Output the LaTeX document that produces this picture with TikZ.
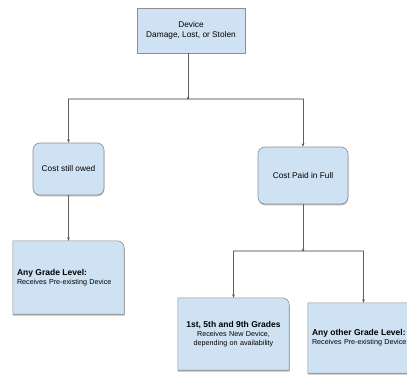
\documentclass[tikz,border=0pt]{standalone}
\usepackage{fontspec}
\setmainfont{Liberation Sans}
\usetikzlibrary{arrows.meta,shadows,backgrounds}

\definecolor{cardblue}{HTML}{CFE2F3}
\definecolor{cardedge}{HTML}{8E8E8E}
\definecolor{linkgray}{HTML}{5F5F5F}
\definecolor{bargray}{HTML}{B8B8B8}

\tikzset{
  softshadow/.style={drop shadow={shadow xshift=0.3pt, shadow yshift=-1.3pt,
      fill=black, opacity=0.28}},
  card/.style={fill=cardblue, draw=cardedge, line width=0.6pt, softshadow,
    align=center, inner sep=4pt, font=\fontsize{8.3}{10}\selectfont},
  roundcard/.style={card, rounded corners=7pt},
  slot/.style={minimum width=111pt, inner sep=4pt,
    font=\fontsize{7.2}{9}\selectfont},
  link/.style={->, draw=linkgray, line width=0.6pt},
  bar/.style={draw=bargray, line width=1.8pt},
}

% heading of a lower card
\newcommand\cardhead[1]{{\fontsize{8.5}{9}\selectfont\bfseries #1}}

% outline of a lower card: only the top right corner is rounded
\newcommand\cardshape[1]{%
  \path[fill=cardblue, draw=cardedge, line width=0.6pt, softshadow]
    (#1.south west) -- (#1.north west) -- ([xshift=-7pt]#1.north east)
    arc[start angle=90, end angle=0, radius=7pt] -- (#1.south east) -- cycle;}

\begin{document}
\begin{tikzpicture}[x=1pt, y=-1pt, >={Stealth[length=3.4pt, width=2.8pt]}]

  \useasboundingbox (0,0) rectangle (407,375);

  \newcommand\YSPLITA{99}
  \newcommand\YSPLITB{251}

  % top
  \node[card, minimum width=108pt, minimum height=45pt] (dev) at (191,30.5)
    {Device\\Damage, Lost, or Stolen};

  % middle
  \node[roundcard, minimum width=71pt, minimum height=52pt] (owed) at (68.5,169)
    {Cost still owed};
  \node[roundcard, minimum width=90pt, minimum height=57pt] (paid) at (303,175.5)
    {Cost Paid in Full};

  % bottom
  \node[slot, minimum height=73pt, text width=103pt, align=left] (anylvl)
    at (68.5,277.5)
    {\cardhead{Any Grade Level:}\\Receives Pre-existing Device};
  \node[slot, minimum height=72pt, text width=103pt, align=center] (grades)
    at (233.5,334)
    {\cardhead{1st, 5th and 9th Grades}\\Receives New Device,\\depending on availability};
  \node[slot, minimum height=70pt, text width=103pt, align=left] (other)
    at (363.5,338)
    {\cardhead{Any other Grade Level:}\\Receives Pre-existing Device};

  \begin{scope}[on background layer]
    \cardshape{anylvl}
    \cardshape{grades}
    \cardshape{other}
  \end{scope}

  % splits
  \coordinate (splitA) at (188,\YSPLITA);
  \coordinate (splitAL) at (owed |- splitA);
  \coordinate (splitAR) at (paid |- splitA);
  \coordinate (splitB) at (paid |- 0,\YSPLITB);
  \coordinate (splitBL) at (grades |- splitB);
  \coordinate (splitBR) at (other |- splitB);

  \draw[bar] ([xshift=-0.9pt]splitAL) -- ([xshift=0.9pt]splitAR);
  \draw[bar] ([xshift=-0.9pt]splitBL) -- ([xshift=0.9pt]splitBR);

  \draw[link] ([xshift=-3pt]dev.south) -- ([yshift=-1pt]splitA);
  \draw[link] (splitAL) -- (owed);
  \draw[link] (splitAR) -- (paid);
  \draw[link] (owed) -- (anylvl);
  \draw[link] (paid) -- ([yshift=-1pt]splitB);
  \draw[link] (splitBL) -- (grades);
  \draw[link] (splitBR) -- (other);

\end{tikzpicture}
\end{document}
